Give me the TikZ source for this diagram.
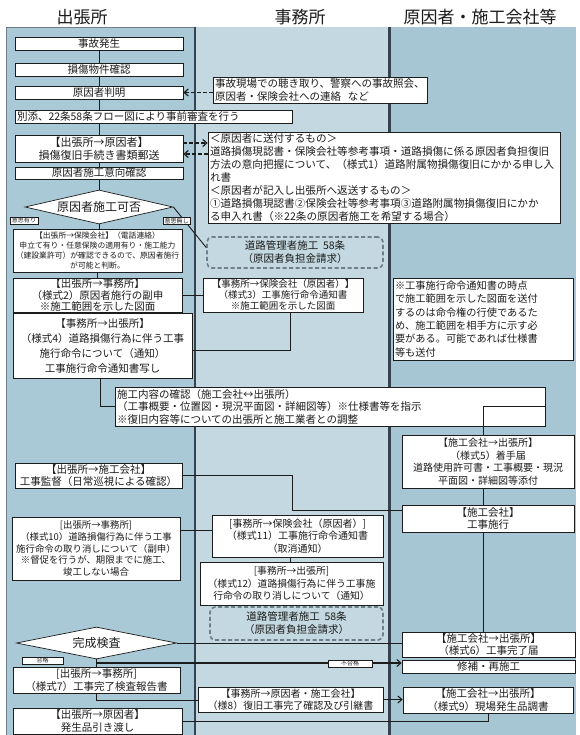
\documentclass[tikz,border=0pt]{standalone}
\usepackage{fontspec}
\setmainfont{Noto Sans CJK JP}
\usetikzlibrary{shapes.geometric,arrows.meta,calc}
\definecolor{colA}{HTML}{A9C9D6}
\definecolor{colB}{HTML}{C3D8E0}
\definecolor{colC}{HTML}{A6C6D3}
\definecolor{sepc}{HTML}{34434F}
\definecolor{ink}{HTML}{1C1C1C}
\definecolor{dashc}{HTML}{6E7F8A}
\newcommand{\fs}[2]{\fontsize{#1}{#2}\selectfont}
\begin{document}
\begin{tikzpicture}[x=1pt,y=-1pt,
  bx/.style={draw=ink, fill=white, line width=0.7pt, inner xsep=2pt, inner ysep=0pt, align=center, text=ink, font=\fs{10.5}{12.5}},
  nbx/.style={bx, align=left},
  dbox/.style={draw=dashc, dash pattern=on 4pt off 2.5pt, rounded corners=5pt, line width=1.6pt, inner sep=0pt, align=center, text=ink, font=\fs{10.5}{13}},
  dmd/.style={diamond, draw=ink, fill=white, line width=0.7pt, inner sep=0pt, text=ink, font=\fs{12}{12}},
  lbl/.style={draw=ink, fill=white, line width=0.5pt, inner sep=0pt, text=ink, font=\fs{6}{6}},
  con/.style={draw=ink, line width=0.9pt},
  darr/.style={con, line width=1.2pt, dash pattern=on 3.5pt off 2.5pt, -{Straight Barb[length=4pt,width=7pt]}},
  arr/.style={con, line width=1.1pt, -{Straight Barb[length=4pt,width=7pt]}},
  hdr/.style={text=ink, font=\fs{17}{20}}
]
\useasboundingbox (0,0) rectangle (579,735);
\fill[white] (0,0) rectangle (579,735);
% columns
\filldraw[fill=colA, draw=dashc, line width=0.6pt] (6,27) rectangle (194,735);
\fill[colB] (196,27) rectangle (389,735);
\fill[colC] (390,27) rectangle (576,735);
\draw[sepc, line width=2.6pt] (195,27) -- (195,735);
\draw[sepc, line width=2.6pt] (389.5,27) -- (389.5,735);
% headers
\node[hdr] (h1) at (82,17) {出張所};
\node[hdr] (h2) at (300,17) {事務所};
\node[hdr] (h3) at (480,17) {原因者・施工会社等};

% nodes
\node[bx,minimum width=168pt,minimum height=13pt] (b1) at (99,43.5) {事故発生};
\node[bx,minimum width=168pt,minimum height=13pt] (b2) at (99,69.5) {損傷物件確認};
\node[bx,minimum width=168pt,minimum height=13pt] (b3) at (99,92.5) {原因者判明};
\node[nbx,text width=210pt,minimum height=26pt,font=\fs{10.5}{12.5}] (n1) at (320,90) {事故現場での聴き取り、警察への事故照会、\\原因者・保険会社への連絡\ \ など};
\node[nbx,text width=273pt,minimum height=13pt] (b4) at (153.5,116.5) {別添、22条58条フロー図により事前審査を行う};
\node[bx,minimum width=168pt,minimum height=27pt,font=\fs{11}{13}] (b5) at (99,148.5) {【出張所→原因者】\\損傷復旧手続き書類郵送};
\node[nbx,text width=348pt,minimum height=91pt,font=\fs{10.6}{13}] (n2) at (384,177.5) {＜原因者に送付するもの＞\\道路損傷現認書・保険会社等参考事項・道路損傷に係る原因者負担復旧\\方法の意向把握について、（様式1）道路附属物損傷復旧にかかる申し入\\れ書\\＜原因者が記入し出張所へ返送するもの＞\\①道路損傷現認書②保険会社等参考事項③道路附属物損傷復旧にかか\\る申入れ書（※22条の原因者施工を希望する場合）};
\node[bx,minimum width=168pt,minimum height=12pt,font=\fs{10.5}{11}] (b6) at (99,173) {原因者施工意向確認};
\node[dmd,shape aspect=4.35,minimum width=148pt,minimum height=34pt] (d1) at (99,207) {原因者施工可否};
\node[bx,minimum width=169pt,minimum height=43pt,font=\fs{7.8}{10.2}] (b7) at (97.5,250.5) {【出張所→保険会社】（電話連絡）\\申立て有り・任意保険の適用有り・施工能力\\（建設業許可）が確認できるので、原因者施行\\が可能と判断。};
\node[dbox,minimum width=176pt,minimum height=31pt] (dash1) at (295,252.5) {道路管理者施工\ \ 58条\\（原因者負担金請求）};
\node[bx,minimum width=169pt,minimum height=34pt,font=\fs{10.5}{11.5}] (b8) at (97.5,295) {【出張所→事務所】\\（様式2）原因者施行の副申\\※施工範囲を示した図面};
\node[bx,minimum width=160pt,minimum height=34pt,font=\fs{9.5}{11}] (b9) at (283,295) {【事務所→保険会社（原因者）】\\（様式3）工事施行命令通知書\\※施工範囲を示した図面};
\node[nbx,text width=176pt,minimum height=82pt,font=\fs{10.2}{13.3}] (n3) at (483,319) {※工事施行命令通知書の時点\\で施工範囲を示した図面を送付\\するのは命令権の行使であるた\\め、施工範囲を相手方に示す必\\要がある。可能であれば仕様書\\等も送付};
\node[bx,minimum width=179pt,minimum height=65pt,font=\fs{10.5}{15}] (b10) at (102.5,345.5) {【事務所→出張所】\\（様式4）道路損傷行為に伴う工事\\施行命令について（通知）\\工事施行命令通知書写し};
\node[nbx,text width=426pt,minimum height=39pt,font=\fs{10.5}{12.5}] (b11) at (330,406.5) {施工内容の確認（施工会社↔出張所）\\（工事概要・位置図・現況平面図・詳細図等）※仕様書等を指示\\※復旧内容等についての出張所と施工業者との調整};
\node[bx,minimum width=172pt,minimum height=53pt,font=\fs{10}{12.5}] (b12) at (488,461.5) {【施工会社→出張所】\\（様式5）着手届\\道路使用許可書・工事概要・現況\\平面図・詳細図等添付};
\node[bx,minimum width=167pt,minimum height=25pt,font=\fs{10.5}{12}] (b13) at (98.5,475.5) {【出張所→施工会社】\\工事監督（日常巡視による確認）};
\node[bx,minimum width=172pt,minimum height=27pt,font=\fs{10.5}{12.5}] (b14) at (488,518.5) {【施工会社】\\工事施行};
\node[bx,minimum width=168pt,minimum height=63pt,font=\fs{9.4}{11.8}] (b15) at (96,548.5) {[出張所→事務所]\\（様式10）道路損傷行為に伴う工事\\施行命令の取り消しについて（副申）\\※督促を行うが、期限までに施工、\\竣工しない場合};
\node[bx,minimum width=171pt,minimum height=42pt,font=\fs{10}{12.5}] (b16) at (297.5,536) {[事務所→保険会社（原因者）]\\（様式11）工事施行命令通知書\\（取消通知）};
\node[bx,minimum width=183pt,minimum height=43pt,font=\fs{9.8}{12.5}] (b17) at (291.5,583.5) {[事務所→出張所]\\（様式12）道路損傷行為に伴う工事施\\行命令の取り消しについて（通知）};
\node[dbox,minimum width=173pt,minimum height=33pt] (dash2) at (296.5,623.5) {道路管理者施工\ \ 58条\\（原因者負担金請求）};
\node[dmd,shape aspect=5,minimum width=160pt,minimum height=32pt] (d2) at (96.5,643) {完成検査};
\node[bx,minimum width=173pt,minimum height=25pt,font=\fs{10.5}{12}] (b18) at (488.5,644.5) {【施工会社→出張所】\\（様式6）工事完了届};
\node[bx,minimum width=173pt,minimum height=13pt,font=\fs{10.5}{11}] (b19) at (488.5,666.5) {修補・再施工};
\node[bx,minimum width=167pt,minimum height=26pt,font=\fs{10.5}{12.5}] (b20) at (96.5,680) {[出張所→事務所]\\（様式7）工事完了検査報告書};
\node[bx,minimum width=185pt,minimum height=25pt,font=\fs{10}{12}] (b21) at (290.5,699.5) {【事務所→原因者・施工会社】\\（様8）復旧工事完了確認及び引継書};
\node[bx,minimum width=170pt,minimum height=26pt,font=\fs{10.5}{12.5}] (b22) at (488,700) {【施工会社→出張所】\\（様式9）現場発生品調書};
\node[bx,minimum width=169pt,minimum height=26pt,font=\fs{10.5}{12.5}] (b23) at (97.5,721) {【出張所→原因者】\\発生品引き渡し};

% helper coordinates
\coordinate (vx) at (483,0);
\coordinate (j1) at (96.5,663);
\coordinate (j2) at (96.5,700);
\coordinate (j4) at (292,510);
\coordinate (j5) at (290,350);
\coordinate (j6) at (100,406.5);
\coordinate (j7) at (0,530);
\coordinate (j8) at (290,0);
\coordinate (j9) at (0,143);
\coordinate (j10) at (0,154);

% connectors
\draw[con] (b1) -- (b2);
\draw[con] (b2) -- (b3);
\draw[con] (b3.south) -- (b3.south |- b4.north);
\draw[con] (b3.south |- b4.south) -- (b5.north);
\draw[con] (b5) -- (b6);
\draw[con] (b6) -- (d1);
\draw[con] (d1.south) -- (d1.south |- b7.north);
\draw[con] (b7) -- (b8);
\draw[con] (d1.east) -- ([yshift=5pt]dash1.west);
\draw[con] (b8.east) -- (b9.west);
\draw[con] (b9.south -| j5) -- (j5) -- (j5 -| b10.east);
\draw[con] (b10.south -| j6) -- (j6) -- (b11.west);
\draw[con] (b11.east) -- (b11.east -| vx) -- (b12.north -| vx);
\draw[con] (b12.south -| vx) -- (b14.north -| vx);
\draw[con] (b13.east) -- (b13.east -| j4) -- (j4) -- (j4 -| b14.west);
\draw[con] (b15.east |- j7) -- (b16.west |- j7);
\draw[con] (b16.south -| j8) -- (b17.north -| j8);
\draw[con] (b17.south -| j8) -- (dash2.north -| j8);
\draw[con] (b14.south -| vx) -- (b18.north -| vx);
\draw[con] (d2.east) -- (d2.east -| b18.west);
\draw[con] (d2.south) -- (j1) -- (b20.north);
\draw[arr] (j1) -- (j1 -| b19.west);
\draw[con] (b20.south) -- (j2) -- (j2 -| b21.west);
\draw[arr] (b21.east) -- (b21.east -| b22.west);
\draw[con] (b23.east) -- (b23.east -| b22.south) -- (b22.south);
\draw[darr] (n1.west |- b3.east) -- (b3.east);
\draw[darr] (b5.east |- j9) -- (n2.west |- j9);
\draw[darr] (n2.west |- j10) -- (b5.east |- j10);

% labels
\node[lbl,minimum width=28pt,minimum height=7pt] (l1) at (24,220.5) {意思有り};
\node[lbl,minimum width=27pt,minimum height=7pt] (l2) at (176.5,221) {意思無し};
\node[lbl,minimum width=41pt,minimum height=7pt] (l3) at (42.5,660.5) {合格};
\node[lbl,minimum width=44pt,minimum height=7pt] (l4) at (350,663.5) {不合格};
\end{tikzpicture}
\end{document}
